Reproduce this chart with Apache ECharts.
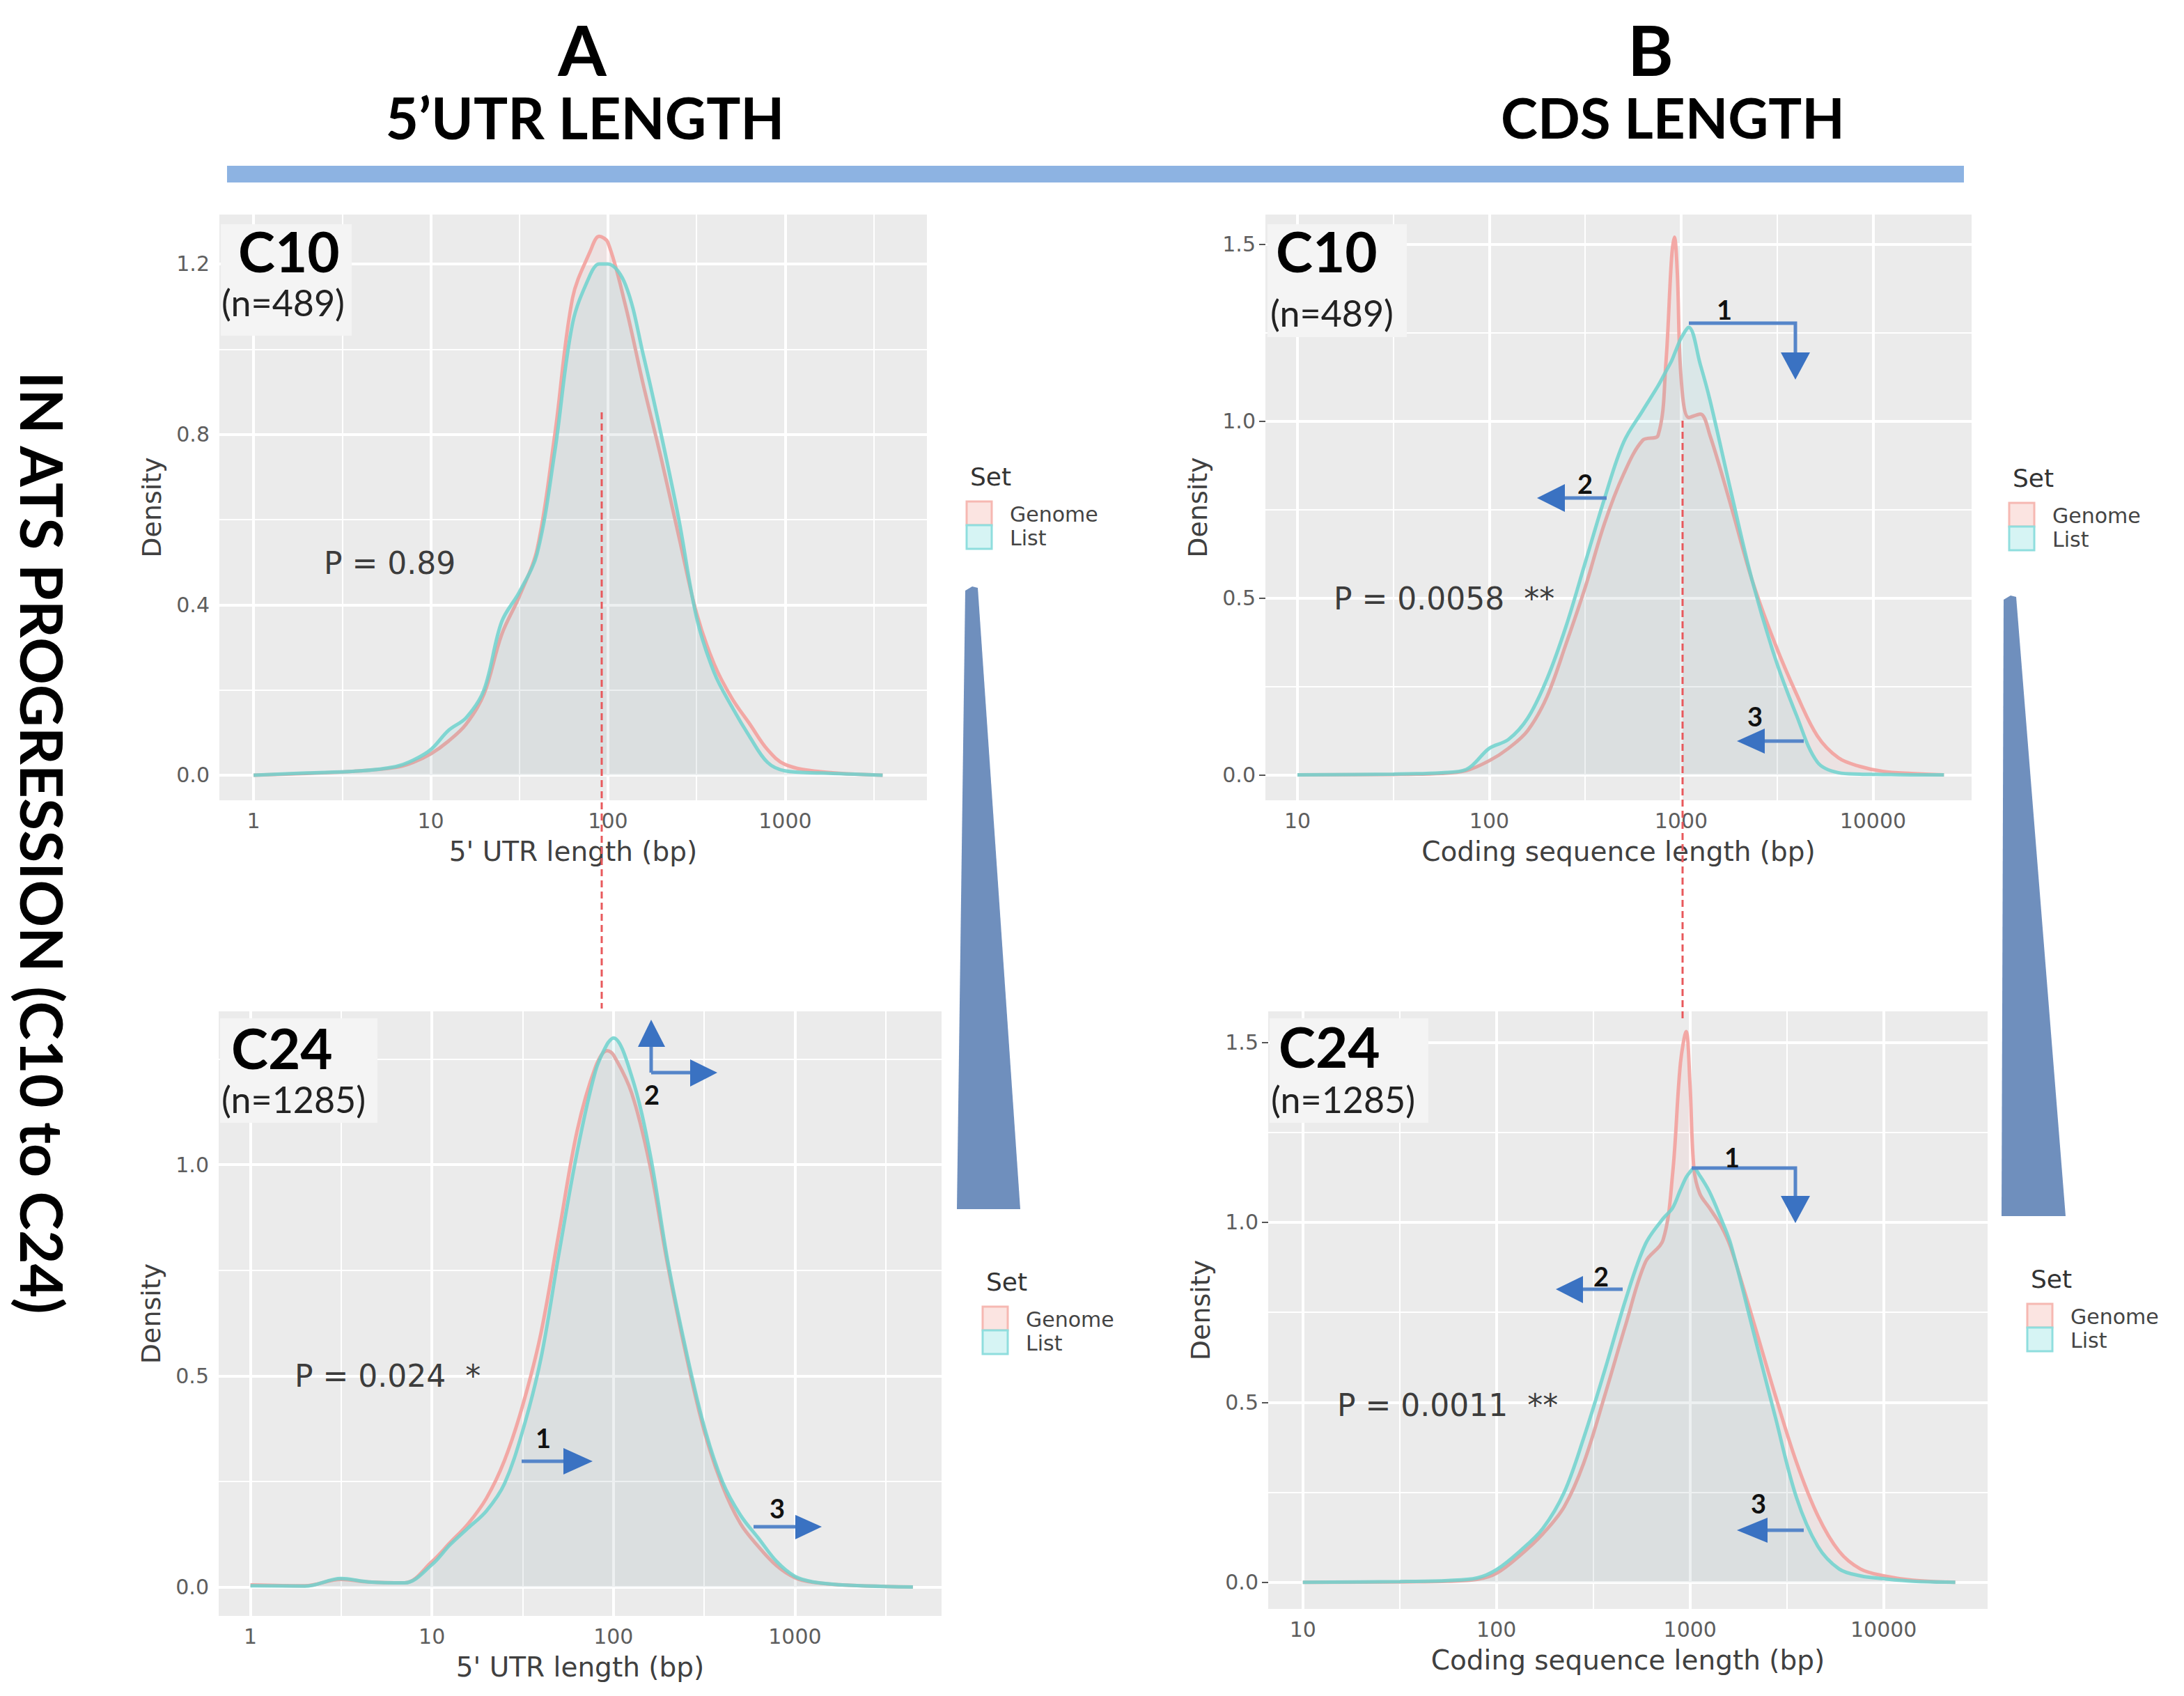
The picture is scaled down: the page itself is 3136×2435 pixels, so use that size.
<!DOCTYPE html>
<html>
<head>
<meta charset="utf-8">
<script src="https://cdn.jsdelivr.net/npm/echarts@6/dist/echarts.min.js"></script>
<style>
html,body{margin:0;padding:0;background:#fff;}
#chart{width:3136px;height:2435px;}
</style>
</head>
<body>
<div id="chart"></div>
<script>
// ---- data (x = log10 of length in bp, y = density) ----
const utrC10LogLen = [0, 0.3, 0.6, 0.8, 0.9, 1.0, 1.1, 1.2, 1.3, 1.4, 1.5, 1.6, 1.7, 1.8, 1.9, 1.95, 2.0, 2.1, 2.2, 2.3, 2.4, 2.5, 2.6, 2.7, 2.8, 2.9, 3.0, 3.2, 3.55];
const utrC10Genome = [0.0, 0.004, 0.01, 0.018, 0.03, 0.05, 0.08, 0.12, 0.19, 0.33, 0.42, 0.53, 0.80, 1.12, 1.23, 1.265, 1.25, 1.10, 0.915, 0.744, 0.56, 0.38, 0.26, 0.18, 0.12, 0.06, 0.025, 0.008, 0.0];
const utrC10List   = [0.0, 0.005, 0.01, 0.02, 0.035, 0.06, 0.105, 0.135, 0.20, 0.36, 0.43, 0.52, 0.76, 1.06, 1.175, 1.20, 1.20, 1.15, 0.985, 0.80, 0.60, 0.37, 0.24, 0.16, 0.09, 0.03, 0.01, 0.005, 0.0];

const cdsC10LogLen = [1.0, 1.5, 1.75, 1.88, 2.0, 2.1, 2.2, 2.3, 2.4, 2.5, 2.6, 2.7, 2.8, 2.88, 2.92, 2.95, 2.965, 2.98, 3.0, 3.04, 3.1, 3.15, 3.26, 3.37, 3.49, 3.6, 3.71, 3.82, 3.93, 4.05, 4.2, 4.37];
const cdsC10Genome = [0, 0.001, 0.004, 0.012, 0.04, 0.075, 0.125, 0.22, 0.37, 0.53, 0.71, 0.85, 0.946, 0.96, 1.16, 1.46, 1.52, 1.42, 1.12, 1.01, 1.02, 0.96, 0.76, 0.55, 0.37, 0.23, 0.11, 0.048, 0.024, 0.01, 0.004, 0];
const cdsC10List   = [0, 0.002, 0.006, 0.015, 0.075, 0.10, 0.16, 0.27, 0.42, 0.60, 0.78, 0.94, 1.03, 1.10, 1.14, 1.17, 1.19, 1.21, 1.235, 1.265, 1.16, 1.06, 0.80, 0.55, 0.33, 0.17, 0.036, 0.006, 0.002, 0.001, 0, 0];

const utrC24LogLen = [0, 0.3, 0.5, 0.65, 0.85, 1.0, 1.1, 1.2, 1.3, 1.4, 1.5, 1.6, 1.7, 1.8, 1.9, 1.965, 2.0, 2.1, 2.2, 2.3, 2.4, 2.5, 2.6, 2.7, 2.8, 2.9, 3.0, 3.1, 3.3, 3.65];
const utrC24Genome = [0.005, 0.003, 0.018, 0.012, 0.01, 0.06, 0.105, 0.15, 0.21, 0.30, 0.43, 0.60, 0.84, 1.08, 1.23, 1.27, 1.26, 1.17, 1.00, 0.76, 0.55, 0.37, 0.24, 0.15, 0.095, 0.05, 0.022, 0.011, 0.004, 0];
const utrC24List   = [0.003, 0.002, 0.02, 0.012, 0.01, 0.053, 0.10, 0.14, 0.18, 0.245, 0.37, 0.54, 0.79, 1.03, 1.22, 1.285, 1.30, 1.21, 1.03, 0.77, 0.56, 0.38, 0.25, 0.17, 0.115, 0.06, 0.025, 0.012, 0.004, 0];

const cdsC24LogLen = [1.0, 1.5, 1.75, 1.9, 2.0, 2.12, 2.24, 2.35, 2.45, 2.56, 2.67, 2.77, 2.86, 2.91, 2.95, 2.98, 3.0, 3.02, 3.05, 3.1, 3.16, 3.21, 3.33, 3.44, 3.55, 3.66, 3.77, 3.88, 4.0, 4.15, 4.37];
const cdsC24Genome = [0, 0.001, 0.003, 0.008, 0.025, 0.074, 0.135, 0.21, 0.33, 0.52, 0.72, 0.89, 0.95, 1.135, 1.44, 1.53, 1.38, 1.15, 1.08, 1.04, 0.99, 0.93, 0.72, 0.52, 0.333, 0.185, 0.086, 0.037, 0.018, 0.006, 0];
const cdsC24List   = [0, 0.002, 0.005, 0.012, 0.035, 0.086, 0.15, 0.25, 0.40, 0.59, 0.79, 0.94, 1.01, 1.04, 1.09, 1.125, 1.14, 1.15, 1.13, 1.085, 1.01, 0.94, 0.69, 0.46, 0.235, 0.10, 0.037, 0.018, 0.01, 0.003, 0];

// tick positions (log10 values) and density ticks
const utrXTicks = [0, 1, 2, 3];
const cdsXTicks = [1, 2, 3, 4];
const utrC10YTicks = [0, 0.4, 0.8, 1.2];
const cdsYTicks = [0, 0.5, 1.0, 1.5];
const utrC24YTicks = [0, 0.5, 1.0];

const setNames = ['Genome', 'List'];
const pValues = ['P = 0.89', 'P = 0.0058\u00a0\u00a0**', 'P = 0.024\u00a0\u00a0*', 'P = 0.0011\u00a0\u00a0**'];

// ---- layout ----
const panels = [
  {grid:{left:315, top:308, width:1016, height:841}, xr:[-0.193, 3.80], yr:[-0.059, 1.316], xt:utrXTicks, xm:[0.5,1.5,2.5,3.5], yt:utrC10YTicks, ym:[0.2,0.6,1.0],
   x:utrC10LogLen, g:utrC10Genome, l:utrC10List, xname:"5' UTR length (bp)"},
  {grid:{left:1817, top:308, width:1014, height:841}, xr:[0.833, 4.514], yr:[-0.072, 1.584], xt:cdsXTicks, xm:[1.5,2.5,3.5], yt:cdsYTicks, ym:[0.25,0.75,1.25],
   x:cdsC10LogLen, g:cdsC10Genome, l:cdsC10List, xname:'Coding sequence length (bp)'},
  {grid:{left:314, top:1452, width:1038, height:868}, xr:[-0.175, 3.808], yr:[-0.0685, 1.363], xt:utrXTicks, xm:[0.5,1.5,2.5,3.5], yt:utrC24YTicks, ym:[0.25,0.75,1.25],
   x:utrC24LogLen, g:utrC24Genome, l:utrC24List, xname:"5' UTR length (bp)"},
  {grid:{left:1821, top:1452, width:1033, height:858}, xr:[0.821, 4.537], yr:[-0.074, 1.586], xt:cdsXTicks, xm:[1.5,2.5,3.5], yt:cdsYTicks, ym:[0.25,0.75,1.25],
   x:cdsC24LogLen, g:cdsC24Genome, l:cdsC24List, xname:'Coding sequence length (bp)'}
];

const FONT = 'DejaVu Sans';
const HEAD = 'Lato, "Liberation Sans", sans-serif';

const grids = [], xAxes = [], yAxes = [], series = [];
panels.forEach((p, i) => {
  grids.push(Object.assign({show:true, backgroundColor:'#ebebeb', borderWidth:0}, p.grid));
  xAxes.push({
    type:'value', gridIndex:i, min:p.xr[0], max:p.xr[1],
    name:p.xname, nameLocation:'middle', nameGap:54,
    nameTextStyle:{fontFamily:FONT, fontSize:39, color:'#404040'},
    axisLine:{show:false},
    axisTick:{show:true, length:9, lineStyle:{color:'#555', width:2}, customValues:p.xt},
    axisLabel:{customValues:p.xt, formatter:v => String(Math.round(Math.pow(10, v))), fontFamily:FONT, fontSize:30, color:'#5e5e5e', margin:14},
    splitLine:{show:false}
  });
  yAxes.push({
    type:'value', gridIndex:i, min:p.yr[0], max:p.yr[1],
    name:'Density', nameLocation:'middle', nameGap:78,
    nameTextStyle:{fontFamily:FONT, fontSize:38, color:'#404040'},
    axisLine:{show:false},
    axisTick:{show:true, length:9, lineStyle:{color:'#555', width:2}, customValues:p.yt},
    axisLabel:{customValues:p.yt, formatter:v => v.toFixed(1), fontFamily:FONT, fontSize:30, color:'#5e5e5e', margin:14},
    splitLine:{show:false}
  });
  const major = {color:'#ffffff', width:4, type:'solid'};
  const minor = {color:'#ffffff', width:2, type:'solid'};
  const mlData = [].concat(
    p.xt.map(v => ({xAxis:v, lineStyle:major})),
    p.xm.map(v => ({xAxis:v, lineStyle:minor})),
    p.yt.map(v => ({yAxis:v, lineStyle:major})),
    p.ym.map(v => ({yAxis:v, lineStyle:minor}))
  );
  series.push({
    type:'line', name:setNames[0], xAxisIndex:i, yAxisIndex:i,
    data:p.x.map((x, k) => [x, p.g[k]]),
    smooth:0.35, symbol:'none', z:3,
    lineStyle:{color:'#f3a19d', width:5, opacity:0.9},
    areaStyle:{color:'rgba(248,118,109,0.10)'},
    markLine:{silent:true, symbol:['none','none'], label:{show:false}, z:1, animation:false,
      lineStyle:{type:'solid', color:'#fff', width:4}, emphasis:{disabled:true}, data:mlData}
  });
  series.push({
    type:'line', name:setNames[1], xAxisIndex:i, yAxisIndex:i,
    data:p.x.map((x, k) => [x, p.l[k]]),
    smooth:0.35, symbol:'none', z:4,
    lineStyle:{color:'#6fd2ce', width:5, opacity:0.85},
    areaStyle:{color:'rgba(0,191,196,0.10)'}
  });
});

// ---- annotation graphics ----
const G = [];
function txt(text, x, y, size, opts) {
  opts = opts || {};
  G.push({type:'text', x:x, y:y, rotation:opts.rotation || 0, z:110, silent:true,
    style:{text:text, fontFamily:opts.family || HEAD, fontSize:size, lineHeight:Math.round(size * 0.95), fontWeight:opts.weight || 'normal',
      fill:opts.color || '#000', align:opts.align || 'left', verticalAlign:'middle'}});
}
function rect(x, y, w, h, fill, stroke, z) {
  G.push({type:'rect', z:z || 100, silent:true, shape:{x:x, y:y, width:w, height:h},
    style:{fill:fill, stroke:stroke || null, lineWidth:stroke ? 3 : 0}});
}
function poly(points, fill, z) {
  G.push({type:'polygon', z:z || 100, silent:true, shape:{points:points}, style:{fill:fill}});
}
function pline(points, stroke, w, dash) {
  G.push({type:'polyline', z:105, silent:true, shape:{points:points},
    style:{stroke:stroke, lineWidth:w, fill:null, lineDash:dash || null}});
}

// headings
txt('A', 836, 70, 100, {align:'center', weight:'bold'});
txt('5\u2019UTR LENGTH', 840, 168, 82, {align:'center', weight:'bold'});
txt('B', 2370, 70, 100, {align:'center', weight:'bold'});
txt('CDS LENGTH', 2402, 168, 80, {align:'center', weight:'bold'});
rect(326, 238, 2494, 24, '#8db3e2');
txt('IN ATS PROGRESSION (C10 to C24)', 61, 1210, 84, {align:'center', weight:'bold', rotation:-Math.PI / 2});

// triangles
poly([[1386,848],[1396,842],[1404,844],[1465,1736],[1374,1736]], '#6f8fbd');
poly([[2877,861],[2887,855],[2895,857],[2966,1746],[2874,1746]], '#6f8fbd');

// panel labels
const labelBoxes = [[317,322,188,160],[1820,322,200,162],[316,1462,226,150],[1823,1462,228,150]];
labelBoxes.forEach(b => rect(b[0], b[1], b[2], b[3], '#f4f4f4', null, 100));
txt('C10', 342, 360, 80, {weight:'bold'});
txt('(n=489)', 318, 434, 52, {color:'#222'});
txt('C10', 1832, 360, 80, {weight:'bold'});
txt('(n=489)', 1824, 449, 52, {color:'#222'});
txt('C24', 332, 1504, 80, {weight:'bold'});
txt('(n=1285)', 318, 1578, 52, {color:'#222'});
txt('C24', 1836, 1502, 80, {weight:'bold'});
txt('(n=1285)', 1825, 1578, 52, {color:'#222'});

// p values
const pPos = [[465,808],[1915,859],[423,1975],[1920,2017]];
pValues.forEach((t, i) => txt(t, pPos[i][0], pPos[i][1], 44, {family:FONT, color:'#3c3c3c'}));

// legends
const legPos = [[1393,684],[2890,686],[1416,1840],[2916,1836]];
legPos.forEach(s => {
  txt('Set', s[0], s[1], 36, {family:FONT, color:'#333'});
  rect(s[0] - 5, s[1] + 36, 36, 34, '#fbe4e1', '#f6b8b2', 102);
  rect(s[0] - 5, s[1] + 70, 36, 34, '#d6f4f4', '#8fdede', 102);
  txt(setNames[0], s[0] + 57, s[1] + 54, 30, {family:FONT, color:'#444'});
  txt(setNames[1], s[0] + 57, s[1] + 88, 30, {family:FONT, color:'#444'});
});

// red dashed guide lines
pline([[864,592],[864,1448]], '#e8595c', 3, [10,6]);
pline([[2416,604],[2416,1468]], '#e8595c', 3, [10,6]);

// arrows
const AL = '#5585c9', AH = '#3a72c2';
// panel B C10
pline([[2425,464],[2578,464],[2578,512]], AL, 5);
poly([[2557,506],[2599,506],[2578,545]], AH, 106);
pline([[2307,715],[2242,715]], AL, 5);
poly([[2247,695],[2247,735],[2207,715]], AH, 106);
pline([[2590,1064],[2530,1064]], AL, 5);
poly([[2534,1046],[2534,1082],[2494,1064]], AH, 106);
txt('1', 2476, 444, 38, {align:'center', weight:'bold', color:'#111'});
txt('2', 2276, 694, 38, {align:'center', weight:'bold', color:'#111'});
txt('3', 2520, 1028, 38, {align:'center', weight:'bold', color:'#111'});
// panel B C24
pline([[2429,1677],[2578,1677],[2578,1722]], AL, 5);
poly([[2557,1717],[2599,1717],[2578,1756]], AH, 106);
pline([[2330,1851],[2268,1851]], AL, 5);
poly([[2273,1832],[2273,1871],[2234,1851]], AH, 106);
pline([[2590,2197],[2534,2197]], AL, 5);
poly([[2538,2179],[2538,2215],[2494,2197]], AH, 106);
txt('1', 2487, 1661, 38, {align:'center', weight:'bold', color:'#111'});
txt('2', 2299, 1832, 38, {align:'center', weight:'bold', color:'#111'});
txt('3', 2525, 2158, 38, {align:'center', weight:'bold', color:'#111'});
// panel A C24
pline([[935,1540],[935,1500]], AL, 5);
poly([[916,1503],[955,1503],[935,1464]], AH, 106);
pline([[935,1540],[994,1540]], AL, 5);
poly([[991,1521],[991,1560],[1030,1540]], AH, 106);
pline([[749,2098],[812,2098]], AL, 5);
poly([[809,2079],[809,2117],[851,2098]], AH, 106);
pline([[1082,2192],[1144,2192]], AL, 5);
poly([[1142,2175],[1142,2210],[1180,2192]], AH, 106);
txt('2', 936, 1571, 38, {align:'center', weight:'bold', color:'#111'});
txt('1', 780, 2064, 38, {align:'center', weight:'bold', color:'#111'});
txt('3', 1116, 2165, 38, {align:'center', weight:'bold', color:'#111'});

const chart = echarts.init(document.getElementById('chart'), null, {renderer:'svg', width:3136, height:2435});
chart.setOption({
  backgroundColor:'#ffffff',
  animation:false,
  grid:grids, xAxis:xAxes, yAxis:yAxes, series:series,
  graphic:G
});
</script>
</body>
</html>
